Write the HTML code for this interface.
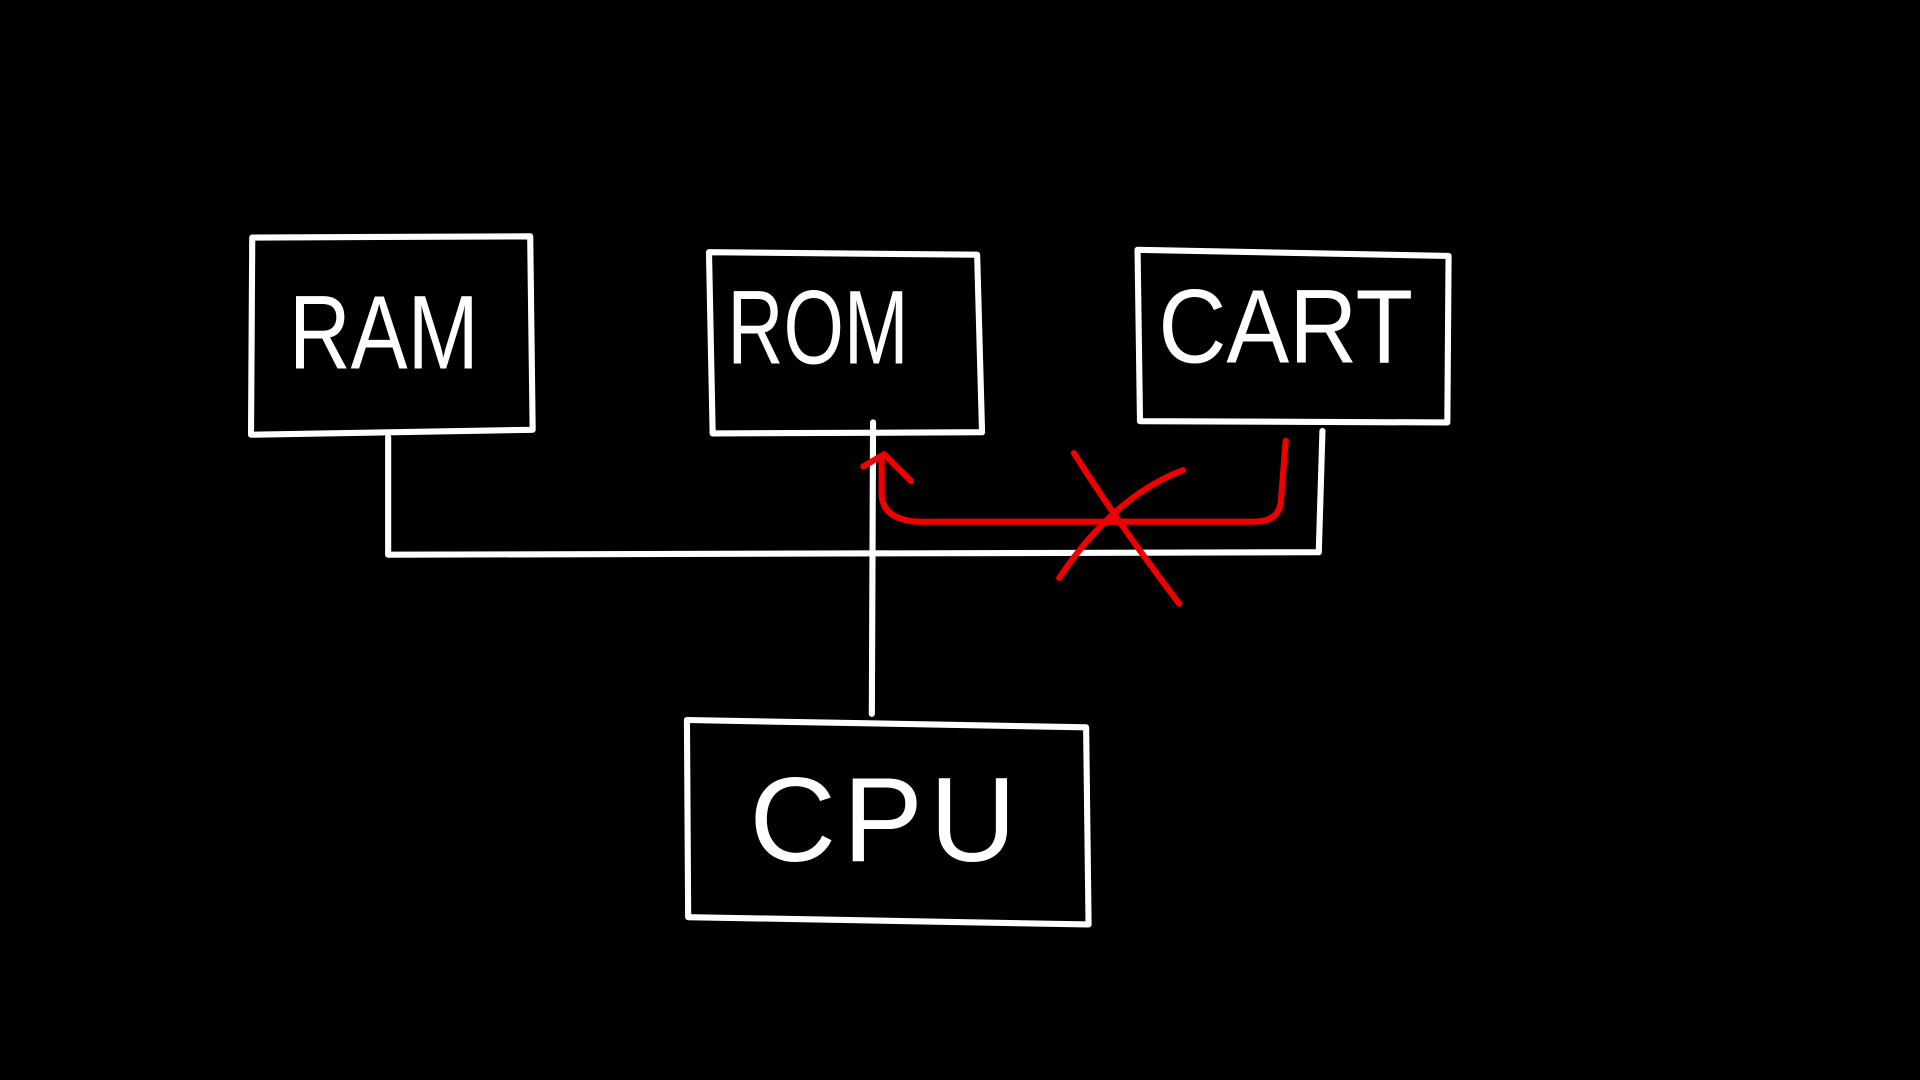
<!DOCTYPE html>
<html><head><meta charset="utf-8"><style>
html,body{margin:0;padding:0;background:#000;width:1920px;height:1080px;overflow:hidden}
svg{display:block}
text{font-family:"Liberation Sans",sans-serif;fill:#fff;stroke:none}
</style></head><body>
<svg width="1920" height="1080" viewBox="0 0 1568 882" xmlns="http://www.w3.org/2000/svg">
<rect width="1568" height="882" fill="#000"/>
<g fill="none" stroke="#fff" stroke-width="5" stroke-linecap="round" stroke-linejoin="round">
<path d="M206 194 L433 193 L435 351 L205 355 Z"/>
<path d="M579 206 L798 208 L802 353 L582 354 Z"/>
<path d="M929 204 L1183 209 L1182 345 L931 344 Z"/>
<path d="M561 588 L887 594 L889 755 L562 749 Z"/>
<path d="M317 357 L317 453 L1077 451 L1080 352"/>
<path d="M713 345 L712 583"/>
</g>
<g font-size="86">
<text x="236" y="301" textLength="155" lengthAdjust="spacingAndGlyphs">RAM</text>
<text x="594" y="297" textLength="148" lengthAdjust="spacingAndGlyphs">ROM</text>
<text x="946" y="296" textLength="208" lengthAdjust="spacingAndGlyphs">CART</text>
<text x="612" y="703" font-size="98" textLength="218" lengthAdjust="spacing">CPU</text>
</g>
<g fill="none" stroke="#e00" stroke-width="5" stroke-linecap="round" stroke-linejoin="round">
<path d="M1050 360 L1046 410 Q1044 426 1025 426 L760 426 Q722 428 720 405 L720 375"/>
<path d="M705 381 L722 371 L744 393"/>
<path d="M877 370 Q915 430 963 493"/>
<path d="M966 384 Q910 405 865 472"/>
</g>
</svg>
</body></html>
